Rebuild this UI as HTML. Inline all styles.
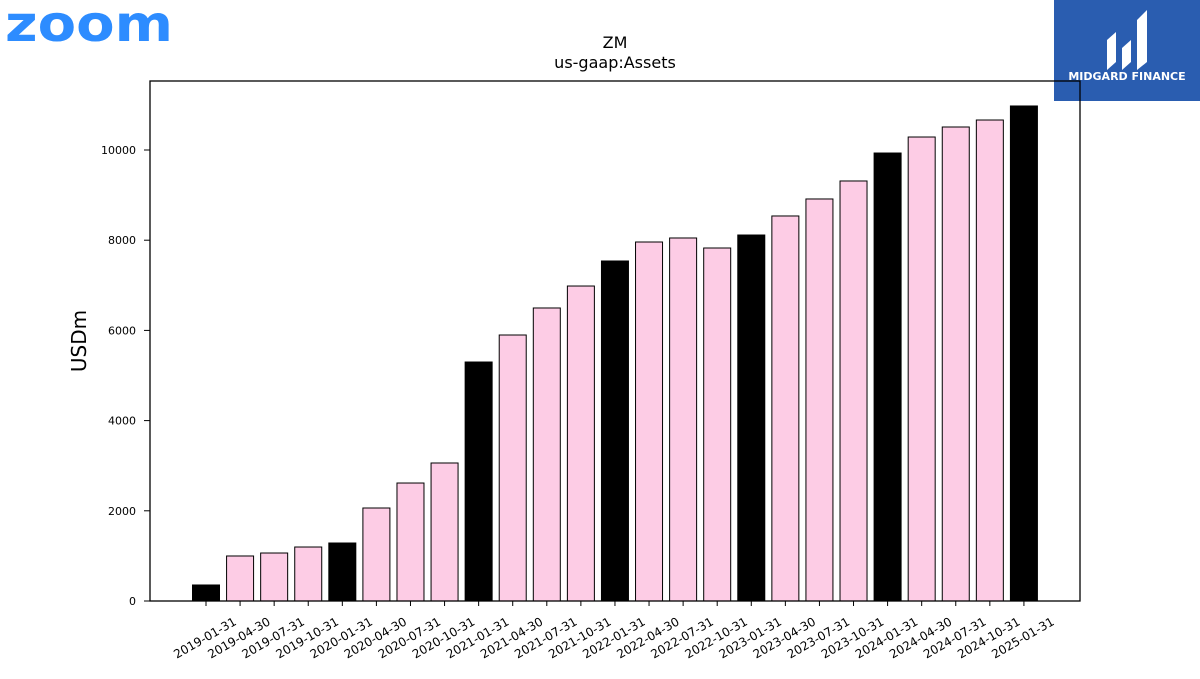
<!DOCTYPE html>
<html><head><meta charset="utf-8"><style>
body{margin:0;background:#fff;width:1200px;height:675px;overflow:hidden;font-family:"DejaVu Sans","Liberation Sans",sans-serif;}
</style></head><body>
<svg id="c" width="1200" height="675" xmlns="http://www.w3.org/2000/svg">
<text x="5" y="41" font-size="50" font-weight="bold" fill="#2D8CFF" font-family="DejaVu Sans,sans-serif" textLength="168" lengthAdjust="spacingAndGlyphs">zoom</text>
<g>
<rect x="1054" y="0" width="146" height="101" fill="#2a5db0"/>
<path d="M1107 70 L1107 40 L1116 32 L1116 62 Z M1122 70 L1122 48 L1131 40 L1131 62 Z M1137 70 L1137 20 L1147 10 L1147 62 Z" fill="#fff"/>
<text x="1127" y="80" font-size="11" font-weight="bold" fill="#fff" text-anchor="middle">MIDGARD FINANCE</text>
</g>
<text x="615" y="48" font-size="16" text-anchor="middle">ZM</text>
<text x="615" y="68" font-size="16" text-anchor="middle">us-gaap:Assets</text>
<text transform="translate(86,341) rotate(-90)" font-size="20" text-anchor="middle">USDm</text>
<g id="bars"></g><g id="ax"></g>
<rect x="150" y="81" width="930" height="520" fill="none" stroke="#000" stroke-width="1.3"/>
</svg>
<script>
const categories=["2019-01-31","2019-04-30","2019-07-31","2019-10-31","2020-01-31","2020-04-30","2020-07-31","2020-10-31","2021-01-31","2021-04-30","2021-07-31","2021-10-31","2022-01-31","2022-04-30","2022-07-31","2022-10-31","2023-01-31","2023-04-30","2023-07-31","2023-10-31","2024-01-31","2024-04-30","2024-07-31","2024-10-31","2025-01-31"];
const values=[355,998,1064,1197,1286,2062,2616,3060,5299,5898,6497,6984,7539,7960,8049,7827,8115,8537,8914,9313,9933,10288,10510,10665,10976];
const yTicks=[0,2000,4000,6000,8000,10000];
const NS="http://www.w3.org/2000/svg";
const y=v=>601-v*0.0451;
const x=i=>206+i*34.08;
const bars=document.getElementById('bars'),ax=document.getElementById('ax');
function mk(t,a,p){const e=document.createElementNS(NS,t);for(const k in a)e.setAttribute(k,a[k]);p.appendChild(e);return e;}
values.forEach((v,i)=>{
 const r=mk('rect',{x:x(i)-13.5,y:y(v),width:27,height:601-y(v),fill:categories[i].endsWith('-01-31')?'#000':'#fdcce5',stroke:'#000','stroke-width':1},bars);
 
 
 mk('line',{x1:x(i),x2:x(i),y1:601,y2:606,stroke:'#000'},ax);
 const t=mk('text',{x:0,y:4,'font-size':12,'text-anchor':'middle',transform:`translate(${x(i)-1},${638}) rotate(-30)`},ax);
 t.textContent=categories[i];
 
 
});
yTicks.forEach(v=>{
 mk('line',{x1:144,x2:150,y1:y(v),y2:y(v),stroke:'#000'},ax);
 const t=mk('text',{x:136,y:y(v)+4,'font-size':11,'text-anchor':'end'},ax);
 t.textContent=v;
 
 
});
</script>
</body></html>
